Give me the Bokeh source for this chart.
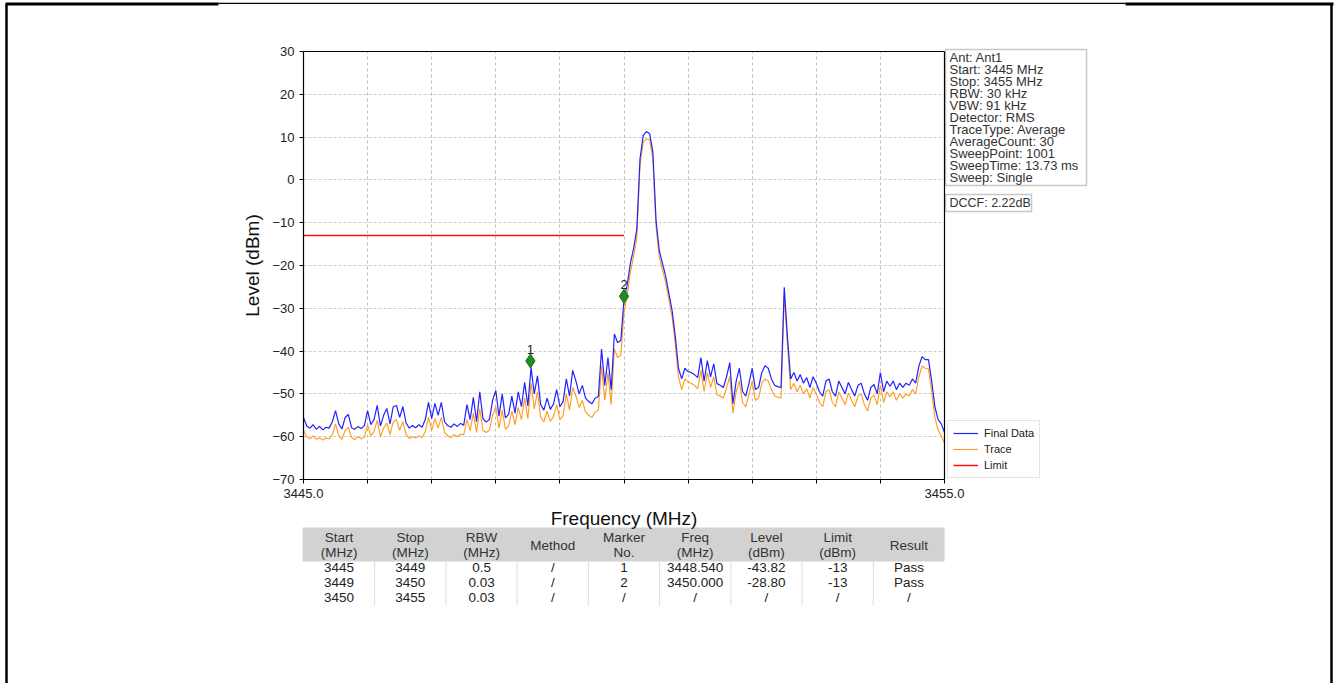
from bokeh.plotting import figure
from bokeh.models import (Range1d, FixedTicker, LinearAxis, Grid, Legend, LegendItem)
from bokeh.core.properties import value
from bokeh.embed import file_html
from bokeh.resources import INLINE

# ---------------- data ----------------
freq_start = 3445.0
freq_step = 0.05

final_data = [
    -55.5, -57.5, -58.0, -57.2, -58.3, -57.6, -58.4, -57.8, -58.0, -56.5,
    -53.9, -57.0, -58.2, -55.5, -54.8, -57.9, -58.3, -57.6, -58.1, -57.4,
    -53.9, -57.2, -56.0, -52.7, -57.5, -55.0, -53.4, -57.0, -53.0, -52.7,
    -55.5, -53.0, -56.8, -58.0, -57.4, -57.9, -57.2, -57.8, -56.0, -52.0,
    -55.8, -52.2, -55.0, -52.0, -56.5, -57.4, -57.8, -57.0, -57.6, -56.9,
    -57.3, -52.5, -56.0, -50.8, -56.5, -49.5, -55.8, -56.6, -56.0, -51.5,
    -49.2, -55.2, -50.0, -55.6, -54.8, -50.5, -54.5, -49.5, -53.0, -47.3,
    -52.8, -43.8, -50.0, -45.8, -52.5, -53.8, -51.0, -53.6, -52.4, -49.0,
    -53.0, -51.8, -46.5, -50.5, -44.5, -47.0, -50.0, -48.0, -51.0, -51.8,
    -52.3, -51.0, -50.6, -39.5, -48.0, -41.5, -49.0, -36.0, -38.0, -37.5,
    -28.0, -24.5, -19.5, -16.0, -11.5, 5.0, 10.4, 11.3, 10.8, 6.5,
    -9.5, -16.5, -19.5, -22.5, -26.5, -30.5, -36.5, -44.0, -46.5, -44.0,
    -44.8, -45.0, -45.5, -46.2, -41.5, -47.0, -42.2, -46.0, -43.0, -47.6,
    -48.0, -48.5, -46.0, -42.7, -52.3, -47.0, -44.0, -49.5, -50.5, -47.5,
    -44.0, -49.0, -48.5, -45.0, -43.4, -44.0, -46.5, -48.0, -48.3, -48.5,
    -25.1, -36.8, -46.5, -45.0, -47.0, -45.5, -47.5, -46.2, -48.5, -46.0,
    -47.5, -49.5, -50.5, -47.0, -46.5, -49.5, -50.5, -47.0, -48.5, -50.0,
    -47.3, -49.0, -50.5, -48.0, -47.5, -50.0, -51.5, -48.5, -47.8, -50.0,
    -45.0, -49.5, -47.0, -48.2, -47.0, -49.0, -47.5, -48.5, -47.5, -48.0,
    -46.5, -47.5, -43.5, -41.3, -42.0, -42.0, -47.0, -53.0, -56.0, -57.0,
    -59.0,
]

trace_data = [
    -58.5, -60.0, -60.5, -59.8, -60.6, -60.2, -60.8, -60.3, -60.5, -59.5,
    -57.0, -59.8, -60.6, -58.5, -57.8, -60.2, -60.7, -60.0, -60.5, -60.0,
    -57.2, -59.8, -58.8, -56.2, -60.0, -58.0, -56.8, -59.5, -56.5, -56.0,
    -58.5, -56.5, -59.5, -60.4, -60.0, -60.3, -59.8, -60.2, -58.8, -55.5,
    -58.5, -55.8, -58.0, -55.5, -59.0, -59.8, -60.2, -59.5, -60.0, -59.4,
    -59.6, -56.0, -58.6, -54.5, -59.0, -53.5, -58.5, -59.0, -58.5, -55.0,
    -53.0, -58.0, -53.8, -58.2, -57.5, -54.0, -57.2, -53.2, -56.0, -51.0,
    -55.8, -47.5, -53.5, -49.5, -55.5, -56.5, -54.0, -56.4, -55.3, -52.5,
    -56.0, -55.0, -50.0, -53.8, -48.5, -50.5, -53.2, -51.5, -54.2, -55.0,
    -55.5, -54.2, -53.8, -43.5, -51.5, -45.0, -52.5, -39.5, -41.5, -41.0,
    -31.0, -27.0, -21.5, -18.0, -13.5, 3.5, 8.8, 9.6, 9.3, 5.0,
    -11.0, -18.0, -21.0, -24.0, -28.0, -32.0, -38.5, -46.0, -49.0, -46.5,
    -47.2, -47.5, -48.0, -48.8, -44.5, -49.5, -45.0, -48.5, -46.0, -50.2,
    -50.5, -51.0, -48.5, -46.0, -54.5, -49.5, -47.0, -52.0, -53.0, -50.0,
    -47.0, -51.5, -51.0, -47.5, -46.5, -47.0, -49.0, -50.5, -50.8, -51.0,
    -27.0, -38.5, -49.0, -47.5, -49.5, -48.0, -50.0, -48.8, -51.0, -48.5,
    -50.0, -52.0, -53.0, -49.5, -49.0, -52.0, -53.0, -49.5, -51.0, -52.5,
    -49.8, -51.5, -53.0, -50.5, -50.0, -52.5, -54.0, -51.0, -50.3, -52.5,
    -48.0, -52.0, -49.5, -50.7, -49.5, -51.5, -50.0, -51.0, -50.0, -50.5,
    -49.0, -50.0, -46.0, -43.5, -44.0, -44.2, -49.5, -55.5, -58.5, -59.8,
    -61.5,
]

freqs = [freq_start + i * freq_step for i in range(len(final_data))]

limit_freq = [3445.0, 3450.0]
limit_level = [-13.0, -13.0]

marker_freq = [3448.54, 3450.0]
marker_level = [-42.3, -27.2]
marker_no = ["1", "2"]

x_ticks = [3445, 3446, 3447, 3448, 3449, 3450, 3451, 3452, 3453, 3454, 3455]
y_ticks = [-70, -60, -50, -40, -30, -20, -10, 0, 10, 20, 30]

info_lines = [
    "Ant: Ant1", "Start: 3445 MHz", "Stop: 3455 MHz", "RBW: 30 kHz",
    "VBW: 91 kHz", "Detector: RMS", "TraceType: Average", "AverageCount: 30",
    "SweepPoint: 1001", "SweepTime: 13.73 ms", "Sweep: Single",
]
dccf_text = "DCCF: 2.22dB"

table_header = ["Start\n(MHz)", "Stop\n(MHz)", "RBW\n(MHz)", "Method",
                "Marker\nNo.", "Freq\n(MHz)", "Level\n(dBm)", "Limit\n(dBm)",
                "Result"]
table_row1 = ["3445", "3449", "0.5", "/", "1", "3448.540", "-43.82", "-13", "Pass"]
table_row2 = ["3449", "3450", "0.03", "/", "2", "3450.000", "-28.80", "-13", "Pass"]
table_row3 = ["3450", "3455", "0.03", "/", "/", "/", "/", "/", "/"]

# ---------------- layout helpers (picture pixel -> data) ----------------
W, H = 1338, 683
FL, FR, FT, FB = 303, 944, 51, 479   # chart box edges in pixels
X0, X1, Y0, Y1 = 3445.0, 3455.0, -70.0, 30.0


def px(xp):
    return X0 + (xp - FL) * (X1 - X0) / (FR - FL)


def py(yp):
    return Y1 - (yp - FT) * (Y1 - Y0) / (FB - FT)


FONT = "Liberation Sans"

p = figure(width=W, height=H, x_range=Range1d(px(0), px(W)), y_range=Range1d(py(H), py(0)),
           x_axis_type=None, y_axis_type=None,
           output_backend="svg", toolbar_location=None, min_border=0)
p.background_fill_color = "white"
p.border_fill_color = "white"
p.outline_line_color = None

# grids limited to the chart box
xgrid = Grid(dimension=0, ticker=FixedTicker(ticks=x_ticks), bounds=(X0, X1),
             cross_bounds=(Y0, Y1), grid_line_color="#bdbdbd", grid_line_dash="3 3")
ygrid = Grid(dimension=1, ticker=FixedTicker(ticks=y_ticks), bounds=(Y0, Y1),
             cross_bounds=(X0, X1), grid_line_color="#cdcdcd", grid_line_dash="3 2")
p.add_layout(xgrid, "center")
p.add_layout(ygrid, "center")


def style_axis(ax):
    ax.axis_line_color = "black"
    ax.axis_line_width = 1.2
    ax.major_tick_line_color = "black"
    ax.major_tick_out = 4
    ax.major_tick_in = 0
    ax.minor_tick_line_color = None
    ax.major_label_text_font = FONT
    ax.major_label_text_font_size = "13px"
    ax.major_label_text_color = "#222222"
    ax.axis_label_text_font = FONT
    ax.axis_label_text_font_size = "19px"
    ax.axis_label_text_font_style = "normal"
    ax.axis_label_text_color = "#111111"


xaxis = LinearAxis(fixed_location=Y0, bounds=(X0, X1), ticker=FixedTicker(ticks=x_ticks),
                   axis_label="Frequency (MHz)", axis_label_standoff=7)
style_axis(xaxis)
xaxis.major_label_overrides = {t: "" for t in x_ticks[1:-1]}
xaxis.major_label_overrides.update({x_ticks[0]: "3445.0", x_ticks[-1]: "3455.0"})
p.add_layout(xaxis, "below")

yaxis = LinearAxis(fixed_location=X0, bounds=(Y0, Y1), ticker=FixedTicker(ticks=y_ticks),
                   axis_label="Level (dBm)", axis_label_standoff=6)
style_axis(yaxis)
p.add_layout(yaxis, "left")

top_axis = LinearAxis(fixed_location=Y1, bounds=(X0, X1), ticker=FixedTicker(ticks=[]))
style_axis(top_axis)
top_axis.major_tick_line_color = None
p.add_layout(top_axis, "above")
right_axis = LinearAxis(fixed_location=X1, bounds=(Y0, Y1), ticker=FixedTicker(ticks=[]))
style_axis(right_axis)
right_axis.major_tick_line_color = None
p.add_layout(right_axis, "right")

# ---------------- series ----------------
r_trace = p.line(freqs, trace_data, line_color="#ff9a1a", line_width=1.1)
r_final = p.line(freqs, final_data, line_color="#2222ff", line_width=1.2)
r_limit = p.line(limit_freq, limit_level, line_color="#ff1010", line_width=1.5)

p.scatter(marker_freq, marker_level, marker="diamond", size=14,
          fill_color="#228b22", line_color="#1a6e1a")
p.text(marker_freq, marker_level, text=marker_no, y_offset=-7,
       text_align="center", text_baseline="bottom",
       text_font=value(FONT), text_font_size="13px", text_color="#222222")

legend = Legend(items=[LegendItem(label="Final Data", renderers=[r_final]),
                       LegendItem(label="Trace", renderers=[r_trace]),
                       LegendItem(label="Limit", renderers=[r_limit])],
                location=(947, H - 478))
legend.label_text_font = FONT
legend.label_text_font_size = "11px"
legend.label_text_color = "#222222"
legend.glyph_width = 25
legend.glyph_height = 14
legend.label_height = 14
legend.spacing = 2
legend.padding = 5
legend.margin = 0
legend.label_standoff = 6
legend.border_line_color = "#c8c8c8"
legend.background_fill_color = "white"
legend.background_fill_alpha = 1.0
p.add_layout(legend, "center")

# ---------------- info box ----------------
p.quad(left=[px(945)], right=[px(1086)], top=[py(49)], bottom=[py(185)],
       fill_color="white", line_color="#c8c8c8", line_width=1.5)
p.text(x=[px(949)] * len(info_lines),
       y=[py(56.5 + 12.0 * k) for k in range(len(info_lines))],
       text=info_lines, text_baseline="middle", text_align="left",
       text_font=value(FONT), text_font_size="13px", text_color="#333333")
p.quad(left=[px(945)], right=[px(1031)], top=[py(194)], bottom=[py(211)],
       fill_color="white", line_color="#c8c8c8", line_width=1.5)
p.text(x=[px(949)], y=[py(202.5)], text=[dccf_text], text_baseline="middle",
       text_align="left", text_font=value(FONT), text_font_size="12.5px",
       text_color="#333333")

# ---------------- table ----------------
col_w = (FR - FL) / 9.0
p.quad(left=[px(FL - 1)], right=[px(FR)], top=[py(527)], bottom=[py(561)],
       fill_color="#d2d2d2", line_color=None)
sep_x = [px(FL + col_w * c) for c in range(1, 9)]
p.segment(x0=sep_x, y0=[py(561)] * 8, x1=sep_x, y1=[py(605)] * 8,
          line_color="#dddddd", line_width=1)

hx, hy, ht = [], [], []
for c, htxt in enumerate(table_header):
    cx = px(FL + col_w * (c + 0.5))
    parts = htxt.split("\n")
    ys = [545] if len(parts) == 1 else [537, 552]
    for part, yy in zip(parts, ys):
        hx.append(cx)
        hy.append(py(yy))
        ht.append(part)
p.text(x=hx, y=hy, text=ht, text_align="center", text_baseline="middle",
       text_font=value(FONT), text_font_size="13.5px", text_color="#333333")

cx_, cy_, ct_ = [], [], []
for r, row in enumerate([table_row1, table_row2, table_row3]):
    for c, cell in enumerate(row):
        cx_.append(px(FL + col_w * (c + 0.5)))
        cy_.append(py(567 + 15 * r))
        ct_.append(cell)
p.text(x=cx_, y=cy_, text=ct_, text_align="center", text_baseline="middle",
       text_font=value(FONT), text_font_size="13.5px", text_color="#222222")

# ---------------- outer frame of the page ----------------
for xa, ya, xb, yb, lw in [(6, 3.5, 6, 683, 2.5), (5, 3.5, 218, 3.5, 3.0),
                           (218, 2.8, 1125, 2.8, 1.3), (1125, 3.5, 1333, 3.5, 3.0),
                           (1331, 3.5, 1331, 683, 2.5)]:
    p.segment(x0=[px(xa)], y0=[py(ya)], x1=[px(xb)], y1=[py(yb)],
              line_color="black", line_width=lw)

open("out.html", "w").write(file_html(p, INLINE))
